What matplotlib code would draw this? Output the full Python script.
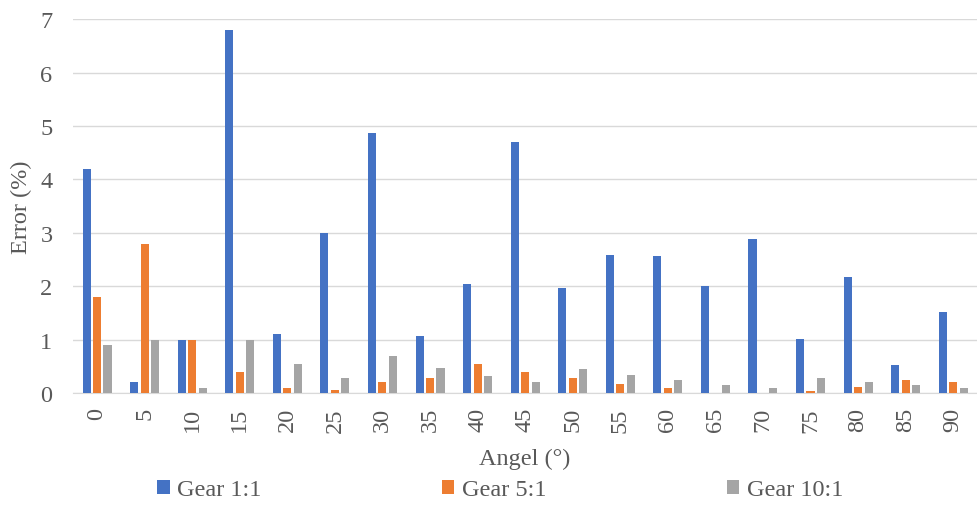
import numpy as np
import matplotlib.pyplot as plt

# Datos
angulos = ['0', '5', '10', '15', '20', '25', '30', '35', '40', '45',
           '50', '55', '60', '65', '70', '75', '80', '85', '90']
gear_1 = [4.2, 0.2, 1.0, 6.8, 1.1, 3.0, 4.87, 1.07, 2.05, 4.7,
          1.97, 2.58, 2.57, 2.0, 2.88, 1.02, 2.18, 0.53, 1.52]
gear_5 = [1.8, 2.8, 1.0, 0.4, 0.1, 0.06, 0.2, 0.28, 0.55, 0.4,
          0.28, 0.17, 0.1, 0.0, 0.0, 0.05, 0.12, 0.24, 0.2]
gear_10 = [0.9, 1.0, 0.1, 1.0, 0.55, 0.28, 0.7, 0.48, 0.33, 0.2,
           0.45, 0.34, 0.24, 0.16, 0.09, 0.28, 0.2, 0.15, 0.09]

plt.rcParams['font.family'] = ['Liberation Serif', 'DejaVu Serif']
fs = 17.5

fig = plt.figure(figsize=(9.77, 5.06), dpi=100)
ax = fig.add_axes([0.075, 0.221, 0.925, 0.739])

x = np.arange(len(angulos))
w = 0.17
d = 0.22
ax.bar(x - d, gear_1, w, color='#4472C4', label='Gear 1:1', zorder=3)
ax.bar(x, gear_5, w, color='#ED7D31', label='Gear 5:1', zorder=3)
ax.bar(x + d, gear_10, w, color='#A5A5A5', label='Gear 10:1', zorder=3)

ax.set_xlim(-0.5, len(angulos) - 0.5)
ax.set_ylim(0, 7)
ax.set_yticks(range(0, 8))
ax.set_xticks(x)
ax.set_xticklabels(angulos, rotation=90)
ax.tick_params(axis='both', length=0, labelsize=fs, colors='#595959')
ax.tick_params(axis='x', pad=10)
ax.tick_params(axis='y', pad=15)
ax.grid(axis='y', color='#d9d9d9', linewidth=1, zorder=0)

for s in ['top', 'right', 'left']:
    ax.spines[s].set_visible(False)
ax.spines['bottom'].set_color('#d9d9d9')

ax.set_ylabel('Error (%)', fontsize=fs, color='#595959', labelpad=6)
ax.set_xlabel('Angel (°)', fontsize=fs, color='#595959', labelpad=12)

fig.legend(loc='center', bbox_to_anchor=(0.512, 0.03), ncol=3, frameon=False,
           fontsize=fs, handlelength=0.5, handleheight=0.5, handletextpad=0.3,
           columnspacing=7.45, labelcolor='#595959')

plt.savefig('out.png', dpi=100)
